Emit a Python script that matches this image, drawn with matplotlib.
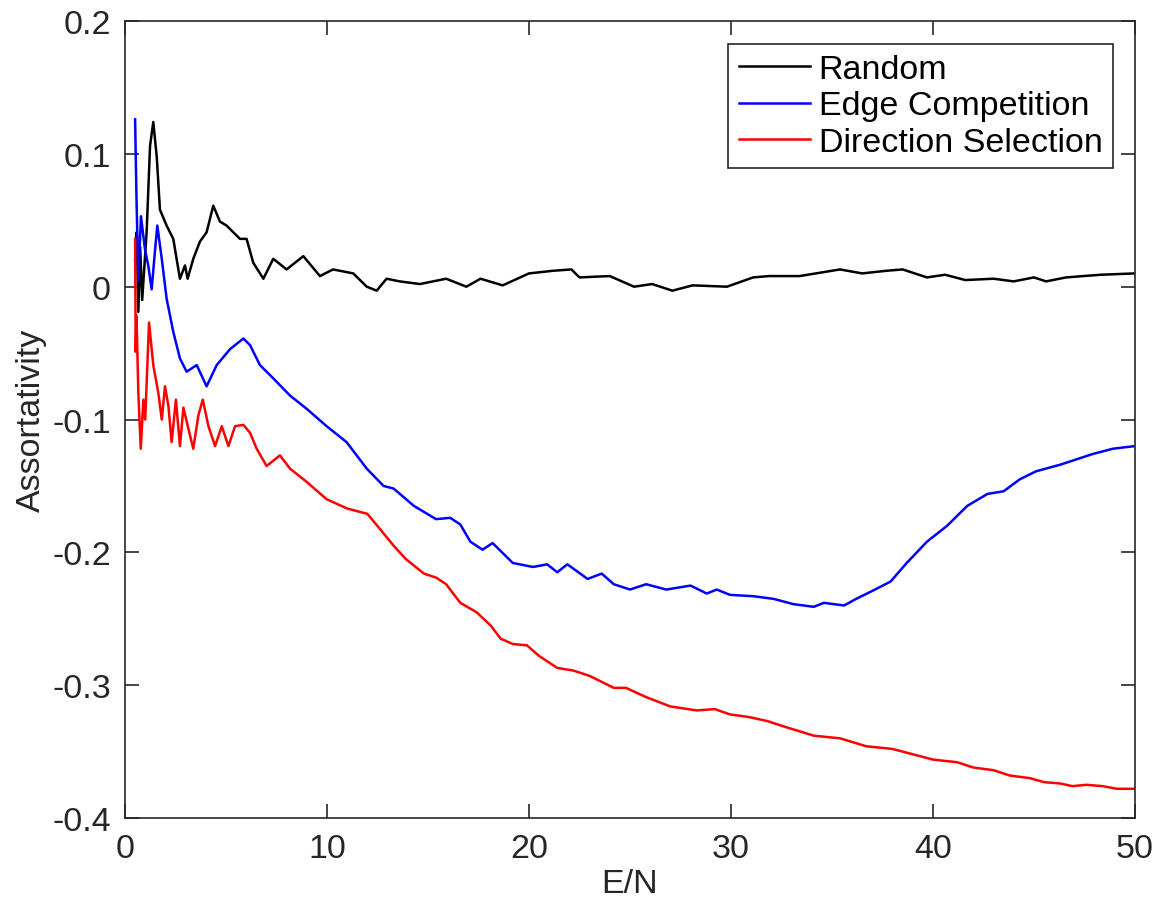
import matplotlib
matplotlib.use("Agg")
import matplotlib.pyplot as plt

plt.rcParams['font.family'] = ['Liberation Sans', 'DejaVu Sans']

# values
rand_x = [0.5, 0.58, 0.66, 0.75, 0.85, 1.07, 1.24, 1.40, 1.57, 1.73, 2.06, 2.39, 2.72, 2.97, 3.1,
          3.38, 3.71, 4.04, 4.37, 4.70, 5.03, 5.36, 5.69, 6.02, 6.35, 6.85, 7.34, 8.0, 8.83,
          9.65, 10.3, 11.3, 11.97, 12.46, 12.95, 13.6, 14.6, 15.9, 16.9, 17.6, 18.7, 20.0,
          21.2, 22.1, 22.5, 24.0, 25.2, 26.1, 27.1, 28.1, 29.8, 31.1, 31.9, 33.4, 35.4, 36.5,
          37.7, 38.5, 39.7, 40.6, 41.6, 43.0, 44.0, 45.0, 45.6, 46.6, 48.3, 50.0]
rand_y = [0.02, 0.041, -0.019, 0.03, -0.01, 0.041, 0.106, 0.124, 0.098, 0.058, 0.046, 0.036,
          0.006, 0.016, 0.006, 0.021, 0.034, 0.041, 0.061, 0.049, 0.046, 0.041, 0.036, 0.036,
          0.018, 0.006, 0.021, 0.013, 0.023, 0.008, 0.013, 0.010, 0.0, -0.003, 0.006, 0.004,
          0.002, 0.006, 0.0, 0.006, 0.001, 0.010, 0.012, 0.013, 0.007, 0.008, 0.0, 0.002,
          -0.003, 0.001, 0.0, 0.007, 0.008, 0.008, 0.013, 0.010, 0.012, 0.013, 0.007, 0.009,
          0.005, 0.006, 0.004, 0.007, 0.004, 0.007, 0.009, 0.010]

edge_x = [0.5, 0.57, 0.66, 0.79, 0.99, 1.15, 1.32, 1.49, 1.60, 1.82, 2.06, 2.39, 2.72, 3.05,
          3.55, 4.04, 4.54, 5.2, 5.86, 6.19, 6.68, 7.34, 8.17, 9.0, 9.98, 10.97, 11.97, 12.8,
          13.3, 14.3, 15.4, 16.1, 16.6, 17.1, 17.7, 18.2, 19.2, 20.2, 20.9, 21.4, 21.9, 22.9,
          23.6, 24.2, 25.0, 25.8, 26.8, 28.0, 28.8, 29.3, 29.95, 31.1, 32.1, 33.1, 34.1, 34.6,
          35.6, 36.2, 37.0, 37.9, 38.7, 39.7, 40.7, 41.7, 42.7, 43.5, 44.3, 45.1, 46.3, 47.1,
          47.9, 48.9, 50.0]
edge_y = [0.126, 0.066, 0.004, 0.053, 0.028, 0.016, -0.002, 0.028, 0.046, 0.021, -0.009,
          -0.034, -0.054, -0.064, -0.059, -0.075, -0.059, -0.047, -0.039, -0.044, -0.059,
          -0.069, -0.082, -0.092, -0.105, -0.117, -0.137, -0.150, -0.152, -0.165, -0.175,
          -0.174, -0.179, -0.192, -0.198, -0.193, -0.208, -0.211, -0.209, -0.215, -0.209,
          -0.220, -0.216, -0.224, -0.228, -0.224, -0.228, -0.225, -0.231, -0.228, -0.232,
          -0.233, -0.235, -0.239, -0.241, -0.238, -0.240, -0.235, -0.229, -0.222, -0.208,
          -0.192, -0.180, -0.165, -0.156, -0.154, -0.145, -0.139, -0.134, -0.130, -0.126,
          -0.122, -0.120]

dir_x = [0.5, 0.53, 0.57, 0.66, 0.78, 0.91, 1.0, 1.19, 1.40, 1.65, 1.82, 1.98, 2.15, 2.31,
         2.52, 2.72, 2.89, 3.14, 3.38, 3.63, 3.85, 4.13, 4.46, 4.79, 5.12, 5.45, 5.86, 6.19,
         6.52, 7.01, 7.67, 8.17, 9.0, 9.98, 11.0, 12.0, 12.6, 13.3, 13.9, 14.8, 15.4, 15.9,
         16.6, 17.4, 18.1, 18.6, 19.2, 19.9, 20.5, 21.4, 22.2, 23.0, 24.2, 24.8, 25.8, 27.0,
         28.3, 29.2, 29.95, 30.9, 31.8, 32.6, 34.1, 35.4, 36.7, 38.0, 39.0, 40.0, 41.2, 42.0,
         43.0, 43.8, 44.8, 45.5, 46.3, 46.9, 47.6, 48.4, 49.1, 50.0]
dir_y = [0.036, -0.049, -0.022, -0.080, -0.122, -0.085, -0.100, -0.027, -0.059, -0.080,
         -0.100, -0.075, -0.090, -0.117, -0.085, -0.120, -0.091, -0.107, -0.122, -0.097,
         -0.085, -0.105, -0.120, -0.105, -0.120, -0.105, -0.104, -0.110, -0.122, -0.135,
         -0.127, -0.137, -0.147, -0.160, -0.167, -0.171, -0.182, -0.195, -0.205, -0.216,
         -0.219, -0.224, -0.238, -0.245, -0.255, -0.265, -0.269, -0.270, -0.278, -0.287,
         -0.289, -0.293, -0.302, -0.302, -0.309, -0.316, -0.319, -0.318, -0.322, -0.324,
         -0.327, -0.331, -0.338, -0.340, -0.346, -0.348, -0.352, -0.356, -0.358, -0.362,
         -0.364, -0.368, -0.370, -0.373, -0.374, -0.376, -0.375, -0.376, -0.378, -0.378]

x_ticks = [0, 10, 20, 30, 40, 50]
y_ticks = [-0.4, -0.3, -0.2, -0.1, 0, 0.1, 0.2]
y_ticklabels = ['-0.4', '-0.3', '-0.2', '-0.1', '0', '0.1', '0.2']

axis_col = '#262626'
fs = 24.5

fig = plt.figure(figsize=(11.65, 9.03), dpi=100)
ax = fig.add_axes([0.1073, 0.0930, 0.8669, 0.8826])

ax.plot(rand_x, rand_y, color='black', lw=1.8, label='Random')
ax.plot(edge_x, edge_y, color='blue', lw=1.8, label='Edge Competition')
ax.plot(dir_x, dir_y, color='red', lw=1.8, label='Direction Selection')

ax.set_xlim(0, 50)
ax.set_ylim(-0.4, 0.2)
ax.set_xticks(x_ticks)
ax.set_yticks(y_ticks)
ax.set_yticklabels(y_ticklabels)

ax.tick_params(direction='in', length=10, width=1.2, colors=axis_col,
               labelsize=fs, top=True, right=True)
ax.tick_params(axis='x', pad=11)
ax.tick_params(axis='y', pad=10)
for s in ax.spines.values():
    s.set_color(axis_col)
    s.set_linewidth(1.2)

ax.set_xlabel('E/N', fontsize=fs, color=axis_col, labelpad=3)
ax.set_ylabel('Assortativity', fontsize=fs, color=axis_col, labelpad=4)

leg = ax.legend(loc='upper right', bbox_to_anchor=(0.978, 0.971), borderaxespad=0,
                fontsize=fs, fancybox=False, framealpha=1, edgecolor=axis_col,
                handlelength=2.1, handletextpad=0.25, borderpad=0.3, labelspacing=0.15)
leg.get_frame().set_linewidth(1.2)

fig.savefig('out.png', dpi=100)
